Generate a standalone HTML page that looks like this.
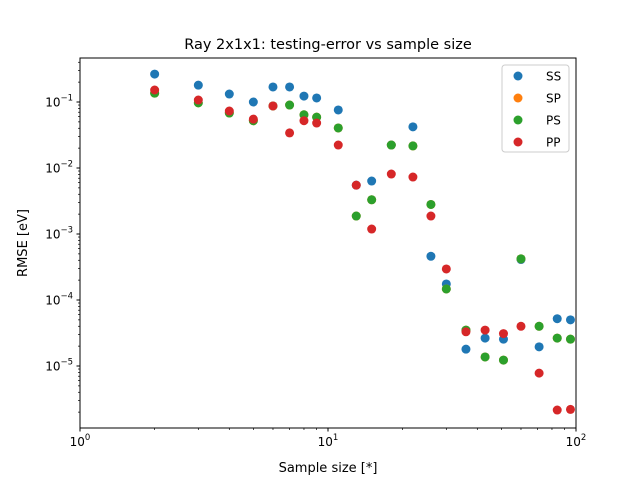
<!DOCTYPE html>
<html><head><meta charset="utf-8"><style>
body{margin:0;background:#fff;}
svg{display:block;font-family:"DejaVu Sans","Liberation Sans",sans-serif;}
</style></head><body>
<svg id="chart" width="640" height="480" viewBox="0 0 640 480">
<rect width="640" height="480" fill="#fff"/>
<text x="328" y="49" text-anchor="middle" font-size="14.5">Ray 2x1x1: testing-error vs sample size</text>
<g id="ticks"></g>
<g id="marks"></g>
<rect x="80" y="58" width="496" height="370" fill="none" stroke="#000" stroke-width="1"/>
<text x="328" y="472" text-anchor="middle" font-size="13">Sample size [*]</text>
<text transform="translate(27,243) rotate(-90)" text-anchor="middle" font-size="13">RMSE [eV]</text>
<g id="legend">
<rect x="502" y="65" width="67" height="87" rx="3" fill="#fff" fill-opacity="0.8" stroke="#ccc"/>
</g>
</svg>
<script>
const xValues=[2,3,4,5,6,7,8,9,11,13,15,18,22,26,30,36,43,51,60,71,84,95];
const seriesNames=["SS","SP","PS","PP"];
const ssValues=[0.265,0.18,0.132,0.1,0.169,0.169,0.123,0.115,0.0757,0.0055,0.00635,0.0223,0.042,4.6e-4,1.75e-4,1.8e-5,2.65e-5,2.55e-5,4.1e-4,1.95e-5,5.2e-5,5.0e-5];
const spValues=[0.136,0.097,0.068,0.052,0.087,0.09,0.064,0.059,0.0404,1.87e-3,3.3e-3,0.0223,0.0216,2.8e-3,1.47e-4,3.5e-5,1.37e-5,1.23e-5,4.2e-4,4.0e-5,2.65e-5,2.55e-5];
const psValues=[0.136,0.097,0.068,0.052,0.087,0.09,0.064,0.059,0.0404,1.87e-3,3.3e-3,0.0223,0.0216,2.8e-3,1.47e-4,3.5e-5,1.37e-5,1.23e-5,4.2e-4,4.0e-5,2.65e-5,2.55e-5];
const ppValues=[0.152,0.107,0.073,0.055,0.087,0.034,0.052,0.048,0.0223,5.5e-3,1.19e-3,8.1e-3,7.3e-3,1.87e-3,2.95e-4,3.3e-5,3.5e-5,3.1e-5,4.0e-5,7.8e-6,2.15e-6,2.2e-6];
const xTickExps=[0,1,2];
const yTickExps=[-1,-2,-3,-4,-5];
const colors=["#1f77b4","#ff7f0e","#2ca02c","#d62728"];
const NS="http://www.w3.org/2000/svg";
function xs(v){return 80+248*Math.log10(v);}
function ys(v){return 102-66*(Math.log10(v)+1);}
function mk(tag,attrs,parent){const e=document.createElementNS(NS,tag);for(const k in attrs)e.setAttribute(k,attrs[k]);parent.appendChild(e);return e;}
const ticks=document.getElementById('ticks');
function sup(t,base,exp,x,y,anchor){
  t.setAttribute('x',x);t.setAttribute('y',y);t.setAttribute('text-anchor',anchor);t.setAttribute('font-size','12');
  t.textContent=base;
  const s=document.createElementNS(NS,'tspan');s.setAttribute('dy','-6');s.setAttribute('font-size','8.5');s.textContent=exp;t.appendChild(s);
}
xTickExps.forEach(e=>{
  const x=xs(Math.pow(10,e));
  const l=mk('line',{x1:x,x2:x,y1:428,y2:431.5,stroke:'#000'},ticks);
  
  
  const t=mk('text',{},ticks);
  
  
  sup(t,'10',String(e),x,446,'middle');
  if(e<2)for(let m=2;m<10;m++){const xm=xs(m*Math.pow(10,e));mk('line',{x1:xm,x2:xm,y1:428,y2:430,stroke:'#000','stroke-width':0.7},ticks);}
});
yTickExps.forEach(e=>{
  const y=ys(Math.pow(10,e));
  const l=mk('line',{x1:76.5,x2:80,y1:y,y2:y,stroke:'#000'},ticks);
  
  
  const t=mk('text',{},ticks);
  
  
  sup(t,'10',e<0?'\u2212'+(-e):String(e),73,y+4.5,'end');
});
for(let e=-6;e<=-1;e++)for(let m=2;m<10;m++){const y=ys(m*Math.pow(10,e));if(y>58&&y<428)mk('line',{x1:78,x2:80,y1:y,y2:y,stroke:'#000','stroke-width':0.7},ticks);}
const marks=document.getElementById('marks');
const all=[ssValues,spValues,psValues,ppValues];
all.forEach((vals,si)=>{
  vals.forEach((v,i)=>{
    const c=mk('circle',{cx:xs(xValues[i]),cy:ys(v),r:4.5,fill:colors[si]},marks);
    
    
  });
});
const lg=document.getElementById('legend');
seriesNames.forEach((n,i)=>{
  const y=76+22*i;
  const c=mk('circle',{cx:518,cy:y,r:4.5,fill:colors[i]},lg);
  
  
  const t=mk('text',{x:546,y:y+4.5,'font-size':'12'},lg);
  t.textContent=n;
  
  
});
</script>
</body></html>
